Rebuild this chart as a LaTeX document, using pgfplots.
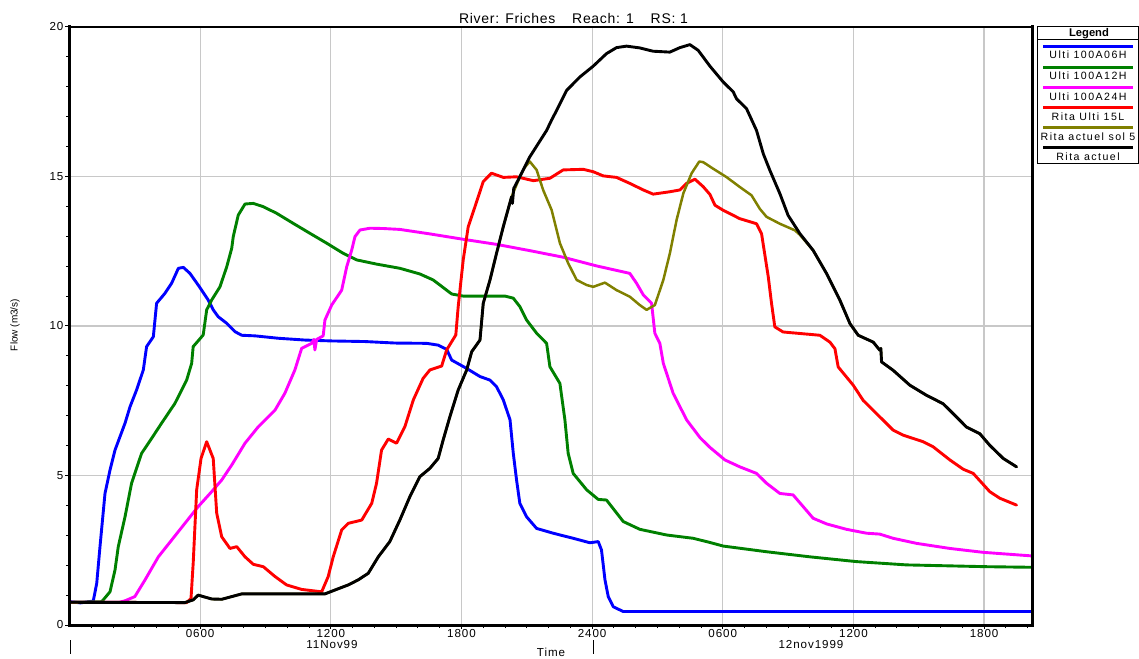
\documentclass[border=0pt]{standalone}
\usepackage{fontspec}
\setmainfont{Liberation Sans}
\newfontfamily\tickfont[LetterSpace=8]{Liberation Sans}
\newfontfamily\legfont[LetterSpace=14]{Liberation Sans}
\newfontfamily\titlefont[LetterSpace=5]{Liberation Sans}
\usepackage{pgfplots}
\usepackage{pgfplotstable}
\pgfplotsset{compat=1.18}

\definecolor{cBlue}{RGB}{0,0,255}
\definecolor{cGreen}{RGB}{0,128,0}
\definecolor{cMagenta}{RGB}{255,0,255}
\definecolor{cRed}{RGB}{255,0,0}
\definecolor{cOlive}{RGB}{128,128,0}
\definecolor{cGrid}{RGB}{200,200,200}

% time in hours from 11Nov99 00:00, flow in m3/s
\pgfplotstableread{
h Q
0 0.78
0.5 0.74
1.09 0.80
1.25 1.39
1.40 2.62
1.63 4.40
1.86 5.18
2.09 5.85
2.32 6.30
2.55 6.75
2.78 7.30
3.08 7.86
3.39 8.53
3.54 9.31
3.85 9.64
4.00 10.76
4.38 11.09
4.69 11.43
5.00 11.93
5.23 11.96
5.53 11.76
5.91 11.37
6.37 10.87
6.60 10.54
6.83 10.31
7.22 10.09
7.60 9.81
7.91 9.69
8.52 9.67
9.59 9.59
10.81 9.53
12.04 9.50
13.57 9.48
14.95 9.43
16.40 9.42
16.93 9.36
17.32 9.22
17.55 8.86
18.24 8.58
18.85 8.31
19.31 8.19
19.61 7.97
19.92 7.53
20.23 6.86
20.38 5.74
20.53 4.85
20.68 4.07
20.99 3.62
21.45 3.23
22.21 3.07
23.13 2.90
23.90 2.75
24.28 2.79
24.43 2.51
24.59 1.51
24.74 0.95
24.97 0.61
25.43 0.45
44.2 0.45
}\tblBlue

\pgfplotstableread{
h Q
0 0.76
1.48 0.78
1.86 1.11
2.09 1.84
2.24 2.62
2.55 3.62
2.85 4.74
3.31 5.74
3.77 6.24
4.23 6.75
4.84 7.41
5.38 8.19
5.61 8.75
5.68 9.31
6.14 9.70
6.30 10.54
6.53 10.87
6.91 11.31
7.22 11.98
7.45 12.60
7.52 12.99
7.75 13.71
8.06 14.08
8.44 14.10
8.90 13.99
9.51 13.77
10.28 13.43
11.04 13.10
11.81 12.77
12.57 12.43
13.19 12.21
14.10 12.07
15.17 11.93
16.09 11.74
16.70 11.54
17.01 11.37
17.55 11.07
18.08 11.00
20.00 11.00
20.38 10.93
20.68 10.65
20.99 10.20
21.45 9.76
21.91 9.42
22.06 8.64
22.52 8.08
22.75 6.86
22.90 5.74
23.13 5.07
23.75 4.52
24.28 4.20
24.66 4.18
25.43 3.46
26.19 3.20
27.42 3.01
28.64 2.90
29.41 2.76
30.02 2.64
32.01 2.45
34.00 2.28
36.14 2.12
38.44 2.01
42.11 1.95
44.2 1.93
}\tblGreen

\pgfplotstableread{
h Q
0 0.76
2.30 0.76
2.55 0.81
3.00 0.95
3.47 1.51
4.08 2.28
4.69 2.84
5.30 3.40
5.91 3.96
6.53 4.46
6.99 4.85
7.45 5.35
8.06 6.08
8.67 6.63
9.44 7.19
9.89 7.75
10.35 8.53
10.66 9.25
11.12 9.42
11.22 9.55
11.27 9.20
11.35 9.55
11.65 9.67
11.73 10.20
12.04 10.70
12.50 11.20
12.73 11.98
12.96 12.54
13.11 12.99
13.34 13.21
13.80 13.27
14.41 13.26
15.17 13.23
16.55 13.08
18.08 12.90
19.61 12.73
21.14 12.52
22.67 12.30
24.20 12.01
25.73 11.76
26.04 11.43
26.35 11.04
26.73 10.76
26.88 9.76
27.11 9.42
27.27 8.75
27.72 7.75
28.34 6.86
28.95 6.27
29.41 5.94
30.10 5.52
30.78 5.29
31.55 5.07
32.01 4.74
32.62 4.40
33.23 4.35
33.69 3.96
34.15 3.57
34.77 3.38
35.68 3.20
36.60 3.07
37.21 3.04
37.82 2.90
38.90 2.73
40.43 2.56
41.96 2.43
44.2 2.31
}\tblMagenta

\pgfplotstableread{
h Q
0 0.76
5.38 0.75
5.58 0.89
5.68 2.06
5.84 4.52
6.04 5.57
6.30 6.13
6.60 5.57
6.76 3.74
6.99 2.95
7.37 2.56
7.68 2.62
8.06 2.28
8.44 2.03
8.90 1.95
9.44 1.62
9.97 1.34
10.66 1.19
11.58 1.11
11.88 1.62
12.11 2.28
12.50 3.18
12.80 3.40
13.42 3.51
13.88 4.07
14.10 4.74
14.33 5.85
14.64 6.22
15.02 6.08
15.40 6.63
15.79 7.53
16.24 8.25
16.55 8.53
17.09 8.66
17.32 9.20
17.74 9.70
17.85 10.65
18.08 12.21
18.31 13.32
18.62 13.99
19.00 14.83
19.38 15.11
19.92 14.97
20.53 14.99
21.30 14.86
22.06 14.94
22.67 15.22
23.59 15.24
24.05 15.16
24.51 15.02
25.12 14.97
25.73 14.77
26.35 14.55
26.80 14.41
27.57 14.49
28.03 14.55
28.34 14.77
28.72 14.91
29.10 14.66
29.41 14.40
29.64 14.04
30.02 13.87
30.78 13.59
31.55 13.42
31.78 13.09
32.09 11.64
32.24 10.75
32.39 9.97
32.77 9.80
33.69 9.74
34.46 9.69
34.92 9.46
35.15 9.24
35.30 8.63
35.99 8.02
36.45 7.51
37.06 7.07
37.82 6.52
38.28 6.35
39.20 6.13
39.66 5.96
40.43 5.52
41.04 5.21
41.50 5.07
42.26 4.46
42.72 4.24
43.49 4.01
}\tblRed

\pgfplotstableread{
h Q
0 0.76
5.30 0.75
5.68 0.84
5.91 1.00
6.14 0.95
6.53 0.87
6.99 0.86
7.45 0.95
7.91 1.04
11.73 1.04
12.19 1.17
12.80 1.34
13.26 1.51
13.72 1.73
14.18 2.28
14.71 2.79
15.17 3.51
15.63 4.29
16.09 4.96
16.55 5.24
16.93 5.57
17.16 6.19
17.47 6.97
17.85 7.86
18.24 8.53
18.47 9.14
18.85 9.53
19.00 10.76
19.31 11.54
19.61 12.43
19.92 13.32
20.30 14.32
20.68 14.99
20.90 15.30
21.14 15.50
21.45 15.22
21.75 14.55
22.14 13.88
22.52 12.77
22.90 12.10
23.29 11.54
23.75 11.37
24.05 11.31
24.59 11.45
25.12 11.20
25.73 10.98
26.19 10.70
26.50 10.54
26.88 10.70
27.27 11.54
27.57 12.43
27.88 13.55
28.19 14.44
28.57 15.11
28.92 15.50
29.10 15.48
29.56 15.26
30.17 14.98
30.78 14.65
31.32 14.37
31.70 13.92
32.01 13.65
32.62 13.42
33.31 13.20
33.54 13.05
34.15 12.53
34.77 11.75
35.38 10.86
35.84 10.08
36.22 9.69
36.91 9.46
37.21 9.19
37.26 9.25
37.29 8.80
37.82 8.52
38.59 8.02
39.36 7.68
40.12 7.40
40.73 6.96
41.19 6.62
41.80 6.40
42.26 6.01
42.88 5.57
43.49 5.29
}\tblOlive

\pgfplotstableread{
h Q
0 0.76
5.30 0.75
5.68 0.84
5.91 1.00
6.14 0.95
6.53 0.87
6.99 0.86
7.45 0.95
7.91 1.04
11.73 1.04
12.19 1.17
12.80 1.34
13.26 1.51
13.72 1.73
14.18 2.28
14.71 2.79
15.17 3.51
15.63 4.29
16.09 4.96
16.55 5.24
16.93 5.57
17.16 6.19
17.47 6.97
17.85 7.86
18.24 8.53
18.47 9.14
18.85 9.53
19.00 10.76
19.31 11.54
19.61 12.43
19.92 13.32
20.30 14.32
20.34 14.10
20.40 14.60
20.68 14.99
21.14 15.66
21.91 16.54
22.14 16.89
22.37 17.21
22.83 17.88
23.44 18.33
24.05 18.69
24.66 19.11
25.12 19.31
25.58 19.36
26.19 19.30
26.80 19.19
27.57 19.16
28.03 19.31
28.49 19.41
28.87 19.22
29.41 18.69
30.02 18.16
30.48 17.83
30.63 17.60
31.09 17.27
31.55 16.54
31.86 15.76
32.16 15.21
32.62 14.43
33.00 13.70
33.54 13.09
34.15 12.53
34.77 11.75
35.38 10.86
35.84 10.08
36.22 9.69
36.91 9.46
37.21 9.19
37.26 9.25
37.29 8.80
37.82 8.52
38.59 8.02
39.36 7.68
40.12 7.40
40.73 6.96
41.19 6.62
41.80 6.40
42.26 6.01
42.88 5.57
43.49 5.29
}\tblBlack

\begin{document}
\begin{tikzpicture}
\useasboundingbox (0,0) rectangle (569.5pt,329pt);
\begin{axis}[
  name=main,
  at={(34.75pt,16.5pt)}, anchor=south west,
  scale only axis, width=481.25pt, height=299pt,
  xmin=0, xmax=44.2, ymin=0, ymax=20,
  axis line style={draw=none},
  xtick={6,12,18,24,30,36,42},
  xticklabels={0600,1200,1800,2400,0600,1200,1800},
  minor xtick={1,...,44},
  ytick={0,5,10,15,20},
  minor ytick={1,...,19},
  xtick pos=bottom, ytick pos=left,
  tick align=outside,
  major tick length=2pt, minor tick length=1.6pt,
  every tick/.style={black, line width=0.5pt},
  grid=major,
  major grid style={line width=0.6pt, cGrid},
  ticklabel style={font=\tickfont\fontsize{5.8}{6}\selectfont},
  xticklabel style={yshift=3.2pt},
  yticklabel style={xshift=2.5pt},
  /pgf/number format/assume math mode=true,
  every axis plot/.append style={line join=round, line cap=round},
]
\addplot[cBlue, line width=1.45pt] table[x=h,y=Q] {\tblBlue};
\addplot[cGreen, line width=1.45pt] table[x=h,y=Q] {\tblGreen};
\addplot[cMagenta, line width=1.45pt] table[x=h,y=Q] {\tblMagenta};
\addplot[cRed, line width=1.45pt] table[x=h,y=Q] {\tblRed};
\addplot[cOlive, line width=1.25pt] table[x=h,y=Q] {\tblOlive};
\addplot[black, line width=1.45pt] table[x=h,y=Q] {\tblBlack};
\end{axis}

% frame: thick left, bottom and right sides, thin top
\draw[line width=1.5pt, line cap=rect] (main.north west) -- (main.south west) -- (main.south east) -- (main.north east);
\draw[line width=0.8pt] (main.north west) -- (main.north east);

% annotations in pixel-like units (origin top left)
\begin{scope}[shift={(0pt,329pt)}, x=0.5pt, y=-0.5pt]
  \node[anchor=base, inner sep=0pt, font=\titlefont\fontsize{7}{8}\selectfont] at (573.5,24) {River: Friches\hspace{1.2em}Reach: 1\hspace{1.2em}RS: 1};
  \node[rotate=90, inner sep=0pt, font=\fontsize{5}{6}\selectfont] at (15,325) {Flow (m3/s)};
  \node[inner sep=0pt, font=\tickfont\fontsize{5.8}{6}\selectfont] at (332,645) {11Nov99};
  \node[inner sep=0pt, font=\tickfont\fontsize{5.8}{6}\selectfont] at (811,645) {12nov1999};
  \node[inner sep=0pt, font=\tickfont\fontsize{5.8}{6}\selectfont] at (551,652) {Time};
  \draw[line width=0.5pt] (70,640) -- (70,654);
  \draw[line width=0.5pt] (593,640) -- (593,654);

  % legend
  \draw[line width=0.5pt, fill=white] (1037.5,26.7) rectangle (1138.5,164);
  \draw[line width=0.5pt] (1037.5,40) -- (1138.5,40);
  \node[inner sep=0pt, font=\bfseries\fontsize{5.6}{6}\selectfont] at (1089,33.3) {Legend};
  \draw[cBlue, line width=1.5pt] (1043,46.7) -- (1133,46.7);
  \node[inner sep=0pt, font=\legfont\fontsize{5.3}{6}\selectfont] at (1088,55) {Ulti 100A06H};
  \draw[cGreen, line width=1.5pt] (1043,67.7) -- (1133,67.7);
  \node[inner sep=0pt, font=\legfont\fontsize{5.3}{6}\selectfont] at (1088,75.5) {Ulti 100A12H};
  \draw[cMagenta, line width=1.5pt] (1043,87.7) -- (1133,87.7);
  \node[inner sep=0pt, font=\legfont\fontsize{5.3}{6}\selectfont] at (1088,96.5) {Ulti 100A24H};
  \draw[cRed, line width=1.5pt] (1043,107.3) -- (1133,107.3);
  \node[inner sep=0pt, font=\legfont\fontsize{5.3}{6}\selectfont] at (1088,117) {Rita Ulti 15L};
  \draw[cOlive, line width=1.5pt] (1043,127.7) -- (1133,127.7);
  \node[inner sep=0pt, font=\legfont\fontsize{5.3}{6}\selectfont] at (1088,137) {Rita actuel sol 5};
  \draw[black, line width=1.5pt] (1043,147.7) -- (1133,147.7);
  \node[inner sep=0pt, font=\legfont\fontsize{5.3}{6}\selectfont] at (1088,156.5) {Rita actuel};
\end{scope}
\end{tikzpicture}
\end{document}
